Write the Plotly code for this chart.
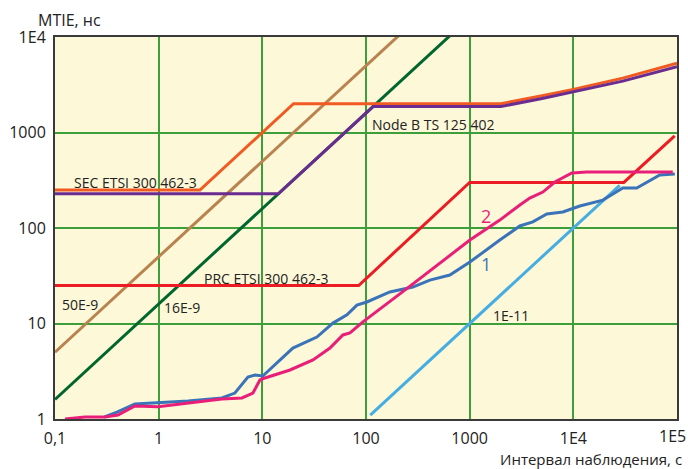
import math
import plotly.graph_objects as go

# ---- data ----
x_ticks = [0.1, 1, 10, 100, 1000, 1e4, 1e5]
x_ticktext = ["0,1", "1", "10", "100", "1000", "1E4", "1E5"]
y_ticks = [1, 10, 100, 1000, 1e4]
y_ticktext = ["1", "10", "100", "1000", "1E4"]

brown_x = [0.1, 1000]
brown_y = [5, 50000]
green_x = [0.1, 1000]
green_y = [1.6, 16000]
lblue_x = [110, 28000]
lblue_y = [1.1, 280]

red_x = [0.1, 85, 1000, 30700, 95000]
red_y = [25, 25, 300, 300, 920]

sec_x = [0.1, 2.5, 20, 2000, 5000, 1e4, 3e4, 1e5]
sec_y = [250, 250, 2000, 2000, 2430, 2830, 3710, 5330]

nodeb_x = [0.1, 14.25, 117, 2000, 5000, 1e4, 3e4, 1e5]
nodeb_y = [228, 228, 1870, 1870, 2270, 2650, 3450, 4890]

c1_x = [0.3, 0.396, 0.59, 0.86, 1.92, 4.07, 5.44, 7.26, 8.49, 10.1, 13.8, 19.7,
        33.6, 48, 65.5, 81.7, 102, 170, 283, 413, 644, 1005, 1954, 3048, 4066,
        5548, 7920, 11560, 19270, 30000, 40900, 68200, 95300]
c1_y = [1.05, 1.18, 1.44, 1.47, 1.54, 1.66, 1.87, 2.75, 2.89, 2.82, 3.86, 5.53,
        7.22, 10.1, 12.3, 15.6, 16.8, 21.4, 24.1, 28.5, 32.2, 44, 74.8, 105, 116,
        140, 147, 170, 196, 262, 262, 359, 367]

c2_x = [0.125, 0.195, 0.303, 0.405, 0.59, 0.985, 4.07, 6.36, 8.11, 9.48, 10.6,
        13.2, 18.5, 30.8, 44.9, 59.9, 70, 93.4, 170, 253, 1005, 1954, 3050, 3800,
        5080, 6640, 9680, 13500, 91000]
c2_y = [1.0, 1.05, 1.05, 1.10, 1.37, 1.34, 1.62, 1.66, 1.87, 2.56, 2.69,
        2.89, 3.26, 4.15, 5.53, 7.59, 7.96, 10.4, 16.8, 23.6, 74.8, 121, 174, 206,
        238, 303, 377, 385, 385]

series = [
    (brown_x, brown_y, "#b98350"),
    (green_x, green_y, "#00662e"),
    (lblue_x, lblue_y, "#45ade2"),
    (red_x, red_y, "#ec1c24"),
    (sec_x, sec_y, "#f15a22"),
    (nodeb_x, nodeb_y, "#6a2c91"),
    (c1_x, c1_y, "#3b73b9"),
    (c2_x, c2_y, "#e91e79"),
]

fig = go.Figure()
for xs, ys, col in series:
    fig.add_trace(go.Scatter(x=xs, y=ys, mode="lines",
                             line=dict(color=col, width=3),
                             hoverinfo="skip", showlegend=False))

FONT = "Open Sans"
L, R, T, B = 55, 11, 37, 50
W, H = 688, 469
pw, ph = W - L - R, H - T - B


def px(xp, yp):
    return (xp - L) / pw, (H - B - yp) / ph


labels = [
    ("SEC ETSI 300 462-3", 135, 182, "#222222", 14),
    ("PRC ETSI 300 462-3", 266, 278, "#222222", 14),
    ("Node B TS 125 402", 433, 124, "#222222", 14),
    ("50E-9", 80, 304, "#222222", 14),
    ("16E-9", 182, 307, "#222222", 14),
    ("1E-11", 511, 315, "#222222", 14),
    ("2", 486, 216, "#e91e79", 18),
    ("1", 486, 264, "#3b73b9", 18),
]
for txt, xp, yp, col, sz in labels:
    ax, ay = px(xp, yp)
    fig.add_annotation(text=txt, x=ax, y=ay, xref="paper", yref="paper",
                       showarrow=False, xanchor="center", yanchor="middle",
                       font=dict(family=FONT, size=sz, color=col))

ax, ay = px(69, 20)
fig.add_annotation(text="MTIE, нс", x=ax, y=ay, xref="paper", yref="paper",
                   showarrow=False, xanchor="center", yanchor="middle",
                   font=dict(family=FONT, size=16, color="#222222"))
ax, ay = px(684, 459)
fig.add_annotation(text="Интервал наблюдения, с", x=ax, y=ay, xref="paper", yref="paper",
                   showarrow=False, xanchor="right", yanchor="middle",
                   font=dict(family=FONT, size=15, color="#222222"))

# last x tick label sits against the right edge: drawn at its tick, nudged left
_, ly = px(0, 436)
fig.add_annotation(text=x_ticktext[-1], x=math.log10(x_ticks[-1]), xref="x",
                   y=ly, yref="paper", xshift=-5, showarrow=False,
                   xanchor="center", yanchor="middle",
                   font=dict(family=FONT, size=16, color="#222222"))

axis_common = dict(showgrid=True, gridcolor="#3c9f3c", gridwidth=1.5,
                   showline=True, linecolor="#3a3a3a", linewidth=2, mirror=True,
                   ticks="", zeroline=False,
                   tickfont=dict(family=FONT, size=16, color="#222222"))

fig.update_xaxes(type="log", range=[-1, 5], tickvals=x_ticks[:-1], ticktext=x_ticktext[:-1],
                 ticklabelstandoff=4, ticklabeloverflow="allow", **axis_common)
fig.update_yaxes(type="log", range=[0, 4], tickvals=y_ticks, ticktext=y_ticktext,
                 ticklabelstandoff=4, ticklabeloverflow="allow", **axis_common)

fig.update_layout(width=W, height=H,
                  margin=dict(l=L, r=R, t=T, b=B, autoexpand=False),
                  paper_bgcolor="white", plot_bgcolor="#fdf8d8",
                  showlegend=False)

fig.write_html("out.html", config={"displayModeBar": False},
               post_script="document.body.style.margin='0px';document.body.style.overflow='hidden';")
